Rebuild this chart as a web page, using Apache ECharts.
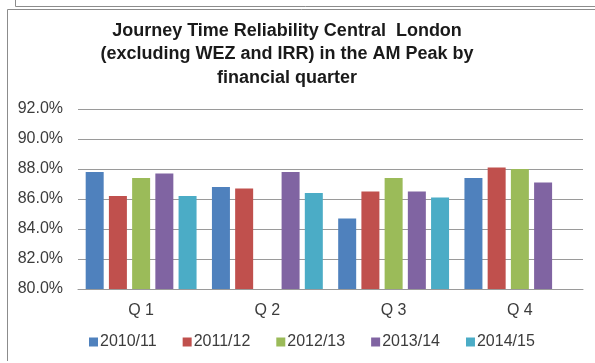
<!DOCTYPE html>
<html>
<head>
<meta charset="utf-8">
<script src="https://cdn.jsdelivr.net/npm/echarts@6/dist/echarts.min.js"></script>
<style>
  html, body { margin: 0; padding: 0; background: #ffffff; }
  #chart { width: 595px; height: 363px; }
</style>
</head>
<body>
<div id="chart"></div>
<script>
// Financial quarters and yearly journey time reliability (%)
const quarters = ['Q 1', 'Q 2', 'Q 3', 'Q 4'];
const years = ['2010/11', '2011/12', '2012/13', '2013/14', '2014/15'];
const fy2010 = [87.8, 86.8, 84.7, 87.4];
const fy2011 = [86.2, 86.7, 86.5, 88.1];
const fy2012 = [87.4, null, 87.4, 88.0];
const fy2013 = [87.7, 87.8, 86.5, 87.1];
const fy2014 = [86.2, 86.4, 86.1, null];
const yTicks = { min: 80, max: 92, step: 2 };

const seriesValues = [fy2010, fy2011, fy2012, fy2013, fy2014];
const palette = ['#4F81BD', '#C0504D', '#9BBB59', '#8064A2', '#4BACC6'];
const font = "'Liberation Sans', Arial, sans-serif";
const textColor = '#3c3c3c';
const frameColor = '#8c8c8c';

const chart = echarts.init(document.getElementById('chart'), null, { renderer: 'canvas' });

chart.setOption({
  animation: false,
  backgroundColor: '#ffffff',
  color: palette,
  title: {
    text: 'Journey Time Reliability Central  London\n(excluding WEZ and IRR) in the AM Peak by\nfinancial quarter',
    left: 287,
    top: 19,
    textAlign: 'center',
    padding: 0,
    textStyle: {
      fontFamily: font,
      fontWeight: 'bold',
      fontSize: 18,
      lineHeight: 23.5,
      color: '#1a1a1a',
      align: 'center'
    }
  },
  legend: {
    data: years,
    left: 89,
    top: 334,
    icon: 'rect',
    itemWidth: 9,
    itemHeight: 9,
    itemGap: 26,
    padding: 0,
    textStyle: { fontFamily: font, fontSize: 16, color: textColor, padding: [0, 0, 0, -3] }
  },
  grid: { left: 78, right: 12, top: 109, bottom: 74 },
  xAxis: {
    type: 'category',
    data: quarters,
    axisLine: { show: true, lineStyle: { color: '#9a9a9a', width: 1 } },
    axisTick: { show: false },
    axisLabel: { fontFamily: font, fontSize: 16, color: textColor, margin: 14 }
  },
  yAxis: {
    type: 'value',
    min: yTicks.min,
    max: yTicks.max,
    interval: yTicks.step,
    axisLine: { show: false },
    axisTick: { show: false },
    axisLabel: {
      fontFamily: font, fontSize: 16, color: textColor, margin: 15,
      formatter: v => v.toFixed(1) + '%'
    },
    splitLine: { lineStyle: { color: '#9a9a9a', width: 1 } }
  },
  series: years.map((name, i) => ({
    name: name,
    type: 'bar',
    data: seriesValues[i],
    barWidth: 18,
    barGap: '29%',
    itemStyle: { color: palette[i] }
  })),
  graphic: [
    { type: 'line', silent: true, shape: { x1: 15.5, y1: 0, x2: 15.5, y2: 6.5 }, style: { stroke: frameColor, lineWidth: 1 } },
    { type: 'line', silent: true, shape: { x1: 15.5, y1: 6.5, x2: 595, y2: 6.5 }, style: { stroke: frameColor, lineWidth: 1 } },
    { type: 'line', silent: true, shape: { x1: 7.5, y1: 9.5, x2: 595, y2: 9.5 }, style: { stroke: frameColor, lineWidth: 1 } },
    { type: 'line', silent: true, shape: { x1: 7.5, y1: 9.5, x2: 7.5, y2: 361 }, style: { stroke: frameColor, lineWidth: 1 } }
  ]
});
</script>
</body>
</html>
